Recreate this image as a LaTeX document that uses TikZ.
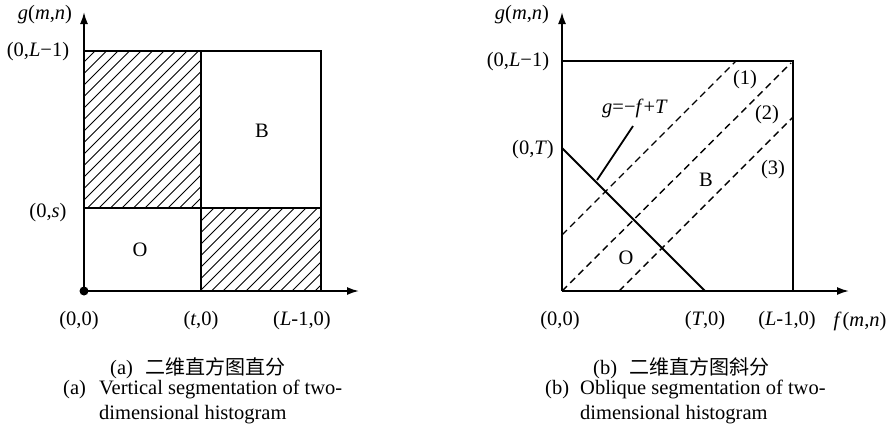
\documentclass[tikz,border=0pt]{standalone}
\usepackage{fontspec}
\setmainfont{Liberation Serif}
\newfontfamily\cjk{Noto Sans CJK SC}
\usetikzlibrary{arrows.meta}
\begin{document}
\begin{tikzpicture}[x=1pt,y=-1pt,
  lbl/.style={font=\fontsize{20.5}{24}\selectfont, inner sep=0pt},
  captxt/.style={font=\fontsize{20.5}{24}\selectfont, inner sep=0pt, anchor=base west},
  boxline/.style={line width=1.8pt},
  axis/.style={line width=1.8pt, -{Latex[length=12pt,width=8pt]}},
  hatchline/.style={line width=0.9pt},
  dline/.style={line width=1.4pt, dash pattern=on 7pt off 4.5pt},
  sline/.style={line width=1.8pt}]
\useasboundingbox (0,0) rectangle (895,437);
\fill[white] (0,0) rectangle (895,437);

% ---------------- left diagram ----------------
\coordinate (O1) at (84,291);
\coordinate (Y1) at (84,12);
\coordinate (X1) at (359,291);
\coordinate (A1) at (84,51);   % top-left
\coordinate (A2) at (201,51);  % top-mid
\coordinate (A3) at (321,51);  % top-right
\coordinate (A4) at (84,208);
\coordinate (A5) at (201,208);
\coordinate (A6) at (321,208);
\coordinate (A7) at (201,291);
\coordinate (A8) at (321,291);

\begin{scope}
  \clip (A1) rectangle (A5);
  \foreach \k in {-300,-288.5,...,420} \draw[hatchline] (\k,400) -- ++(400,-400);
\end{scope}
\begin{scope}
  \clip (A5) rectangle (A8);
  \foreach \k in {-300,-288.5,...,420} \draw[hatchline] (\k,400) -- ++(400,-400);
\end{scope}

\draw[boxline] (A1) -- (A3) -- (A8);
\draw[boxline] (A2) -- (A7);
\draw[boxline] (A4) -- (A6);
\draw[axis] (O1) -- (Y1);
\draw[axis] (O1) -- (X1);
\fill (O1) circle (4.5pt);

\node[lbl] (g1) at (45,15) {\textit{g}(\textit{m},\textit{n})};
\node[lbl] (yL1) at (38,52) {(0,\textit{L}−1)};
\node[lbl] (ys1) at (48,213) {(0,\textit{s})};
\node[lbl] (x01) at (79,321) {(0,0)};
\node[lbl] (xt1) at (201,321) {(\textit{t},0)};
\node[lbl] (xL1) at (302,321) {(\textit{L}-1,0)};
\node[lbl] (B1) at (262,131) {B};
\node[lbl] (Oo1) at (140,250) {O};

% ---------------- right diagram ----------------
\coordinate (O2) at (562,291);
\coordinate (Y2) at (562,12);
\coordinate (X2) at (849,291);
\coordinate (C1) at (562,61);
\coordinate (C2) at (793,61);
\coordinate (C3) at (793,291);
\coordinate (T1) at (562,148);
\coordinate (T2) at (705,291);
\coordinate (D1a) at (562,235);
\coordinate (D1b) at (736,61);
\coordinate (D2b) at (791,63);
\coordinate (D3a) at (619,291);
\coordinate (D3b) at (793,117);
\coordinate (La) at (597,180);
\coordinate (Lb) at (633,126);

\draw[boxline] (C1) -- (C2) -- (C3);
\draw[axis] (O2) -- (Y2);
\draw[axis] (O2) -- (X2);
\draw[sline] (T1) -- (T2);
\draw[sline] (La) -- (Lb);
\draw[dline] (D1a) -- (D1b);
\draw[dline] (O2) -- (D2b);
\draw[dline] (D3a) -- (D3b);

\node[lbl] (g2) at (522,15) {\textit{g}(\textit{m},\textit{n})};
\node[lbl] (yL2) at (518,62) {(0,\textit{L}−1)};
\node[lbl] (yT2) at (533,150) {(0,\textit{T})};
\node[lbl] (x02) at (560,321) {(0,0)};
\node[lbl] (xT2) at (705,321) {(\textit{T},0)};
\node[lbl] (xL2) at (787,321) {(\textit{L}-1,0)};
\node[lbl] (f2) at (860,321) {\textit{f\,}(\textit{m},\textit{n})};
\node[lbl] (eq) at (635,108) {\textit{g}=−\textit{f}+\textit{T}};
\node[lbl] (n1) at (745,80) {(1)};
\node[lbl] (n2) at (767,115) {(2)};
\node[lbl] (n3) at (773,170) {(3)};
\node[lbl] (B2) at (706,180) {B};
\node[lbl] (Oo2) at (626,258) {O};

% ---------------- captions ----------------
\node[captxt] (ca0) at (110,374) {(a)};
\node[captxt, font=\fontsize{20}{24}\cjk] (ca1) at (145,374) {二维直方图直分};
\node[captxt] (ca2) at (63,394) {(a)};
\node[captxt] (ca3) at (99,394) {Vertical segmentation of two-};
\node[captxt] (ca4) at (99,419) {dimensional histogram};

\node[captxt] (cb0) at (593,374) {(b)};
\node[captxt, font=\fontsize{20}{24}\cjk] (cb1) at (629,374) {二维直方图斜分};
\node[captxt] (cb2) at (545,394) {(b)};
\node[captxt] (cb3) at (580,394) {Oblique segmentation of two-};
\node[captxt] (cb4) at (580,419) {dimensional histogram};
\end{tikzpicture}
\end{document}
